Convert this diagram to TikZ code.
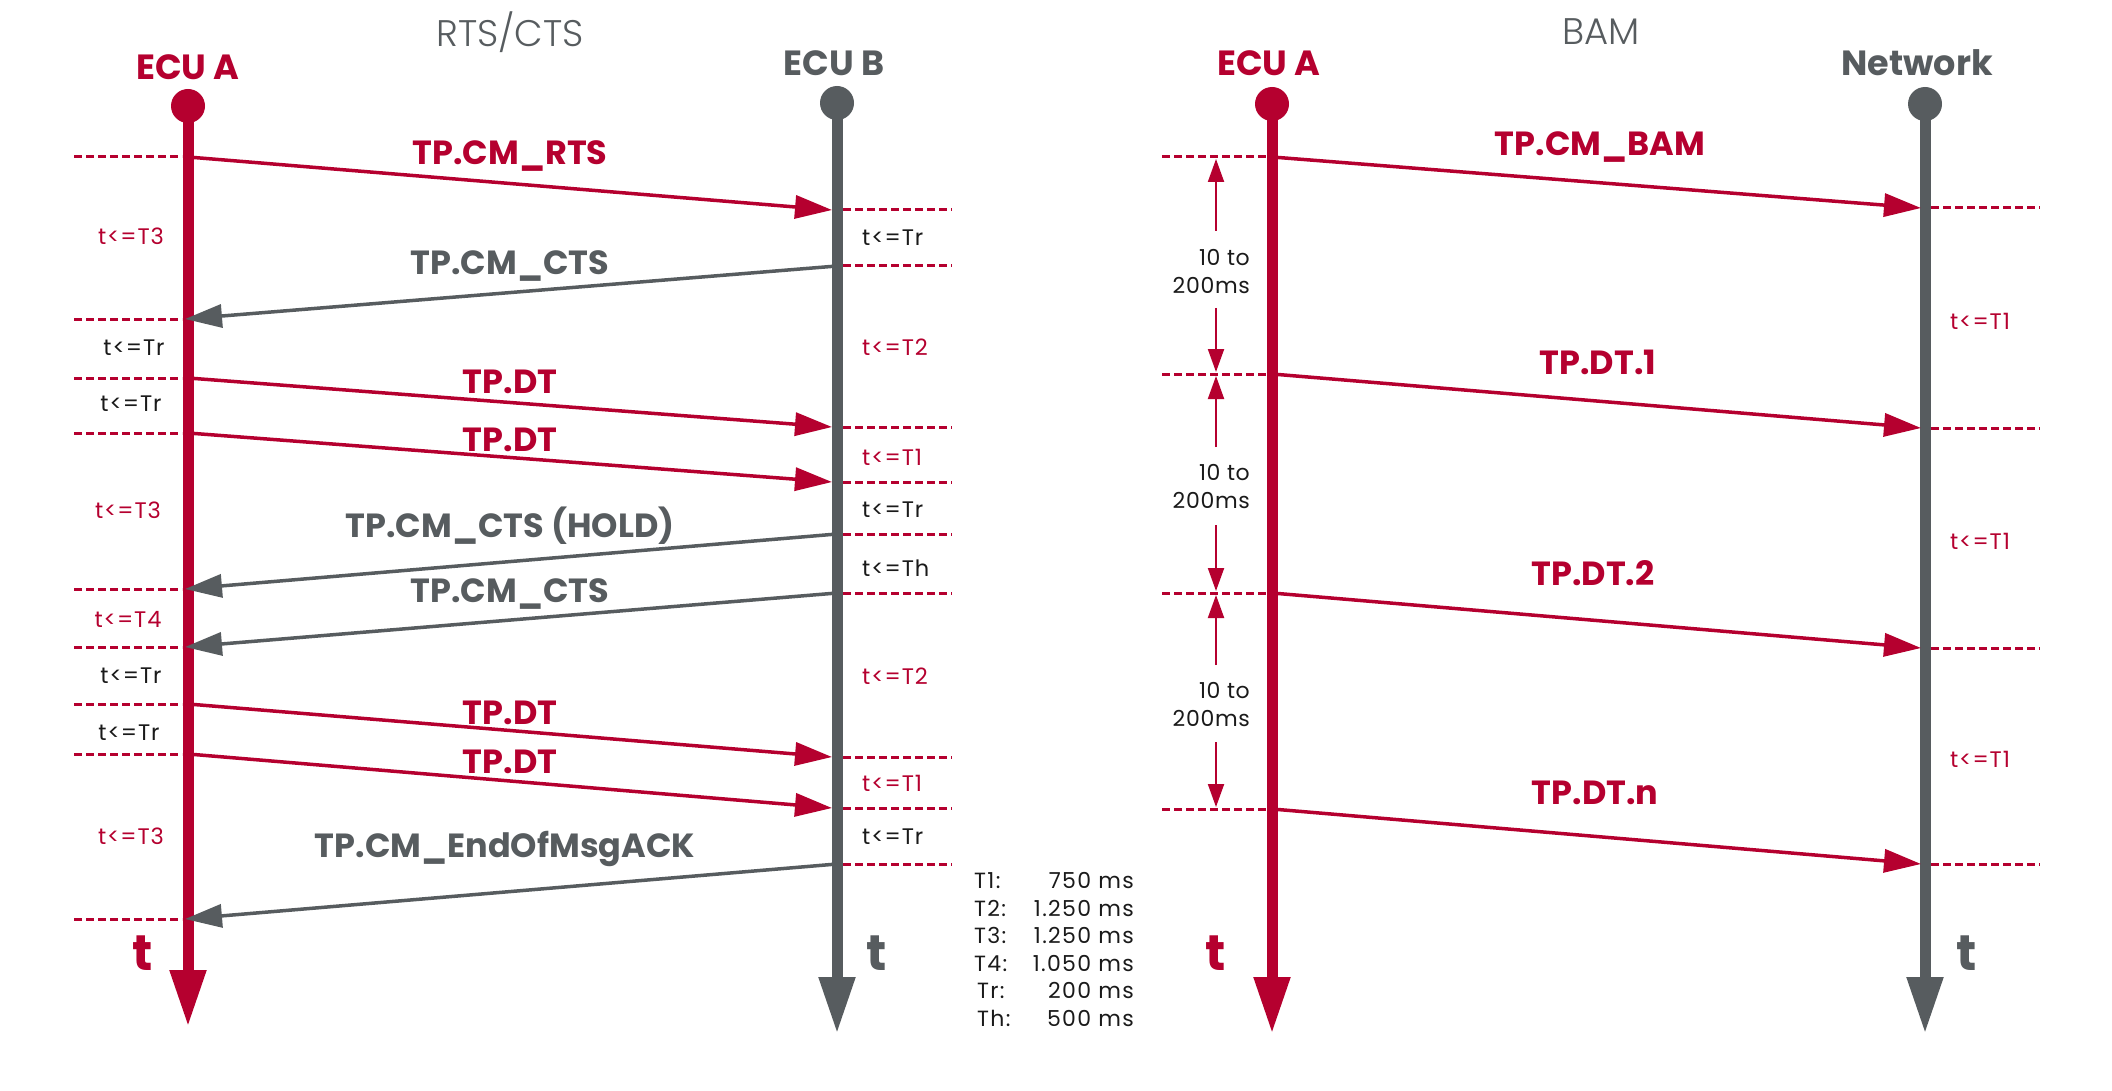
\documentclass[tikz,border=0pt]{standalone}
\usepackage{fontspec}
\setmainfont{Poppins}
\newfontfamily\spacedfont[LetterSpace=4]{Poppins}
\newfontfamily\legfont[LetterSpace=6]{Poppins}
\newfontfamily\dimfont[LetterSpace=3]{Poppins}
\newfontfamily\poplight{Poppins Light}
\usetikzlibrary{arrows.meta}
\definecolor{ecured}{HTML}{B5002F}
\definecolor{ecugrey}{HTML}{575C5F}
\definecolor{txtblack}{HTML}{1A1A1A}
\newcommand\fsz[1]{\fontsize{#1pt}{#1pt}\selectfont}
\begin{document}
\begin{tikzpicture}[x=1pt,y=-1pt,
  txt/.style={inner sep=0pt, anchor=base},
  title/.style={txt, text=ecugrey, font=\poplight\fsz{37}},
  head/.style={txt, font=\fsz{35}\bfseries},
  msglbl/.style={txt, font=\fsz{33.5}\bfseries},
  tlbl/.style={txt, font=\spacedfont\fsz{22.5}},
  tlblw/.style={tlbl, anchor=base west},
  axislbl/.style={txt, font=\fsz{50}\bfseries},
  dimlbl/.style={txt, anchor=base east, text=txtblack, font=\dimfont\fsz{22}},
  legl/.style={txt, anchor=base west, text=txtblack, font=\legfont\fsz{22}},
  legv/.style={txt, anchor=base east, text=txtblack, font=\legfont\fsz{22}},
  lifeline/.style={line width=11pt, -{Triangle[length=57pt,width=34pt]}},
  msg/.style={line width=3.5pt, -{Triangle[length=37pt,width=23pt]}},
  dashline/.style={draw=ecured, line width=3pt, dash pattern=on 8pt off 4pt},
  dimarrow/.style={draw=ecured, line width=2pt, -{Triangle[length=23pt,width=16pt]}}
]
\useasboundingbox[fill=white] (0,0) rectangle (2112,1091);

% ---------------- titles and heads
\node[title] (tRTS) at (510,47) {RTS/CTS};
\node[title] (tBAM) at (1601,45) {BAM};
\node[head, text=ecured] (hA) at (188,80) {ECU A};
\node[head, text=ecugrey] (hB) at (834,75.5) {ECU B};
\node[head, text=ecured] (hC) at (1269,76) {ECU A};
\node[head, text=ecugrey] (hN) at (1917,76) {Network};

% ---------------- lifelines
\coordinate (Atop) at (188,106);  \coordinate (Abot) at (188,1027);
\coordinate (Btop) at (837,103);  \coordinate (Bbot) at (837,1034);
\coordinate (Ctop) at (1272,104); \coordinate (Cbot) at (1272,1034);
\coordinate (Ntop) at (1925,104); \coordinate (Nbot) at (1925,1034);
\fill[ecured] (Atop) circle[radius=17];
\fill[ecugrey] (Btop) circle[radius=17];
\fill[ecured] (Ctop) circle[radius=17];
\fill[ecugrey] (Ntop) circle[radius=17];
\draw[lifeline, draw=ecured, fill=ecured] (Atop) -- (Abot);
\draw[lifeline, draw=ecugrey, fill=ecugrey] (Btop) -- (Bbot);
\draw[lifeline, draw=ecured, fill=ecured] (Ctop) -- (Cbot);
\draw[lifeline, draw=ecugrey, fill=ecugrey] (Ntop) -- (Nbot);
\node[axislbl, text=ecured] (tA) at (143,970) {t};
\node[axislbl, text=ecugrey] (tB) at (877,970) {t};
\node[axislbl, text=ecured] (tC) at (1216,970) {t};
\node[axislbl, text=ecugrey] (tN) at (1967,970) {t};

% ---------------- RTS/CTS message points
\foreach \n/\ya/\yb in {1/157/210,2/319/266,3/378/427,4/433/482,5/589/534,6/647/593,7/704/757,8/754/808,9/919/864}{
  \coordinate (a\n) at (188,\ya);
  \coordinate (ai\n) at (185,\ya);
  \coordinate (b\n) at (837,\yb);
  \coordinate (bi\n) at (832,\yb);
  \draw[dashline] (74,\ya) -- (182,\ya);
  \draw[dashline] (843,\yb) -- (952,\yb);
}
\draw[msg, draw=ecured, fill=ecured] (a1) -- (bi1);
\draw[msg, draw=ecugrey, fill=ecugrey] (b2) -- (ai2);
\draw[msg, draw=ecured, fill=ecured] (a3) -- (bi3);
\draw[msg, draw=ecured, fill=ecured] (a4) -- (bi4);
\draw[msg, draw=ecugrey, fill=ecugrey] (b5) -- (ai5);
\draw[msg, draw=ecugrey, fill=ecugrey] (b6) -- (ai6);
\draw[msg, draw=ecured, fill=ecured] (a7) -- (bi7);
\draw[msg, draw=ecured, fill=ecured] (a8) -- (bi8);
\draw[msg, draw=ecugrey, fill=ecugrey] (b9) -- (ai9);

\node[msglbl, text=ecured]  (l1) at (510,165) {TP.CM\_RTS};
\node[msglbl, text=ecugrey] (l2) at (510,275) {TP.CM\_CTS};
\node[msglbl, text=ecured]  (l3) at (510,393) {TP.DT};
\node[msglbl, text=ecured]  (l4) at (510,451) {TP.DT};
\node[msglbl, text=ecugrey] (l5) at (510,537) {TP.CM\_CTS (HOLD)};
\node[msglbl, text=ecugrey] (l6) at (510,602) {TP.CM\_CTS};
\node[msglbl, text=ecured]  (l7) at (510,724) {TP.DT};
\node[msglbl, text=ecured]  (l8) at (510,773) {TP.DT};
\node[msglbl, text=ecugrey] (l9) at (505,857) {TP.CM\_EndOfMsgACK};

% time limits, ECU A side
\node[tlbl, text=ecured]   (ta1) at (131,245) {t<=T3};
\node[tlbl, text=txtblack] (ta2) at (134,355) {t<=Tr};
\node[tlbl, text=txtblack] (ta3) at (131,411) {t<=Tr};
\node[tlbl, text=ecured]   (ta4) at (128,518) {t<=T3};
\node[tlbl, text=ecured]   (ta5) at (128,627) {t<=T4};
\node[tlbl, text=txtblack] (ta6) at (131,683) {t<=Tr};
\node[tlbl, text=txtblack] (ta7) at (129,740) {t<=Tr};
\node[tlbl, text=ecured]   (ta8) at (131,844) {t<=T3};
% time limits, ECU B side
\node[tlblw, text=txtblack] (tb1) at (862,246) {t<=Tr};
\node[tlblw, text=ecured]   (tb2) at (862,355) {t<=T2};
\node[tlblw, text=ecured]   (tb3) at (862,465) {t<=T1};
\node[tlblw, text=txtblack] (tb4) at (862,517) {t<=Tr};
\node[tlblw, text=txtblack] (tb5) at (862,576) {t<=Th};
\node[tlblw, text=ecured]   (tb6) at (862,684) {t<=T2};
\node[tlblw, text=ecured]   (tb7) at (862,791) {t<=T1};
\node[tlblw, text=txtblack] (tb8) at (862,844) {t<=Tr};

% legend
\node[legl] (lg1) at (974,888.5) {T1:};   \node[legv] (lv1) at (1134,888.5) {750 ms};
\node[legl] (lg2) at (974,916) {T2:};     \node[legv] (lv2) at (1134,916) {1.250 ms};
\node[legl] (lg3) at (974,943.5) {T3:};   \node[legv] (lv3) at (1134,943.5) {1.250 ms};
\node[legl] (lg4) at (974,971) {T4:};     \node[legv] (lv4) at (1134,971) {1.050 ms};
\node[legl] (lg5) at (977,998.5) {Tr:};   \node[legv] (lv5) at (1134,998.5) {200 ms};
\node[legl] (lg6) at (977,1026) {Th:};    \node[legv] (lv6) at (1134,1026) {500 ms};

% ---------------- BAM
\foreach \n/\ya/\yb in {1/157/208,2/374/428,3/593/648,4/809/864}{
  \coordinate (c\n) at (1272,\ya);
  \coordinate (ni\n) at (1921,\yb);
  \draw[dashline] (1162,\ya) -- (1266,\ya);
  \draw[dashline] (1931,\yb) -- (2040,\yb);
}
\draw[msg, draw=ecured, fill=ecured] (c1) -- (ni1);
\draw[msg, draw=ecured, fill=ecured] (c2) -- (ni2);
\draw[msg, draw=ecured, fill=ecured] (c3) -- (ni3);
\draw[msg, draw=ecured, fill=ecured] (c4) -- (ni4);
\node[msglbl, text=ecured] (m1) at (1600,156) {TP.CM\_BAM};
\node[msglbl, text=ecured] (m2) at (1598,374) {TP.DT.1};
\node[msglbl, text=ecured] (m3) at (1593,585) {TP.DT.2};
\node[msglbl, text=ecured] (m4) at (1595,804) {TP.DT.n};

\node[tlbl, text=ecured] (tn1) at (1980,330) {t<=T1};
\node[tlbl, text=ecured] (tn2) at (1980,549) {t<=T1};
\node[tlbl, text=ecured] (tn3) at (1980,767) {t<=T1};

% interval dimensions
\coordinate (d1u) at (1216,231); \coordinate (d1ut) at (1216,159);
\coordinate (d1d) at (1216,308); \coordinate (d1dt) at (1216,372);
\coordinate (d2u) at (1216,447); \coordinate (d2ut) at (1216,376);
\coordinate (d2d) at (1216,525); \coordinate (d2dt) at (1216,591);
\coordinate (d3u) at (1216,665); \coordinate (d3ut) at (1216,595);
\coordinate (d3d) at (1216,742); \coordinate (d3dt) at (1216,807);
\draw[dimarrow] (d1u) -- (d1ut);
\draw[dimarrow] (d1d) -- (d1dt);
\draw[dimarrow] (d2u) -- (d2ut);
\draw[dimarrow] (d2d) -- (d2dt);
\draw[dimarrow] (d3u) -- (d3ut);
\draw[dimarrow] (d3d) -- (d3dt);
\node[dimlbl] (dt1a) at (1250,266) {10 to};
\node[dimlbl] (dt1b) at (1250,294) {200ms};
\node[dimlbl] (dt2a) at (1250,480.5) {10 to};
\node[dimlbl] (dt2b) at (1250,508) {200ms};
\node[dimlbl] (dt3a) at (1250,698.5) {10 to};
\node[dimlbl] (dt3b) at (1250,726.5) {200ms};
\end{tikzpicture}
\end{document}
